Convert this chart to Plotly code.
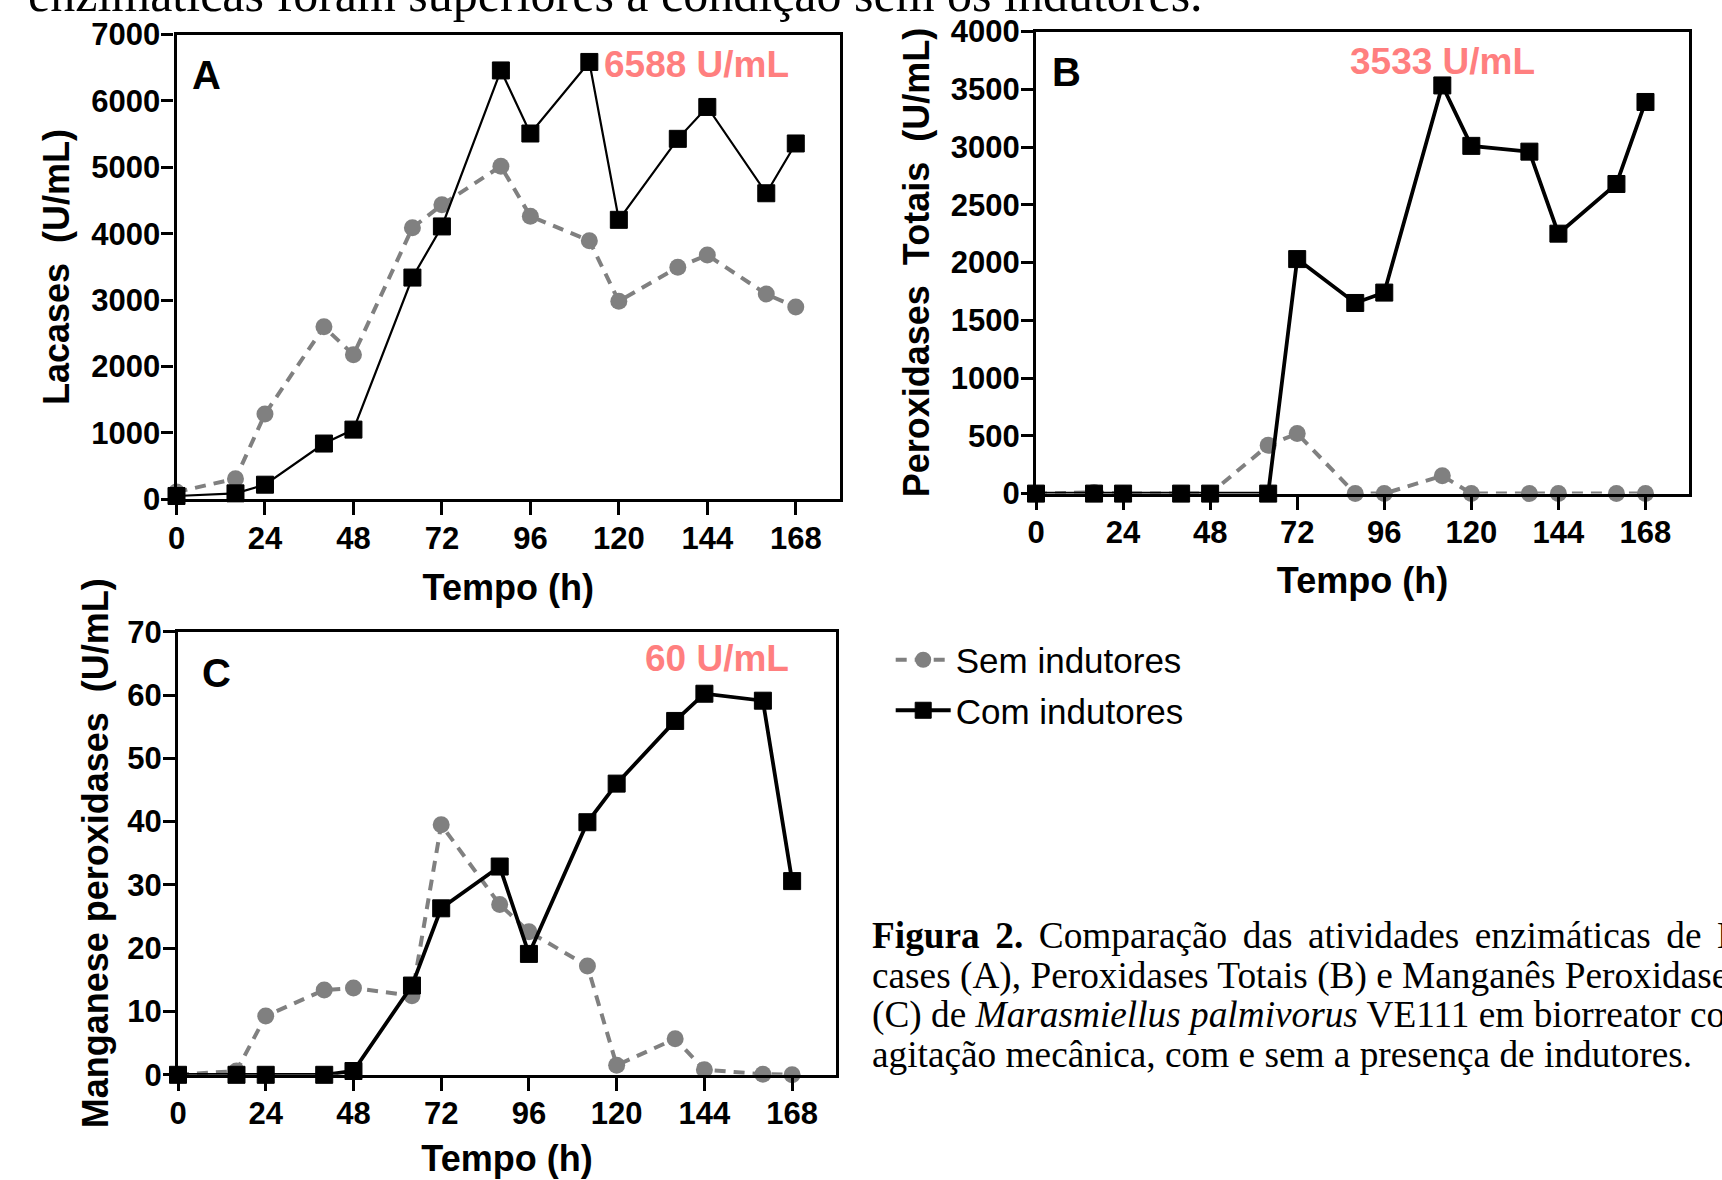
import plotly.graph_objects as go

W, H = 1722, 1180

# ---------------- data ----------------
hours = [0, 16, 24, 40, 48, 64, 72, 88, 96, 112, 120, 136, 144, 160, 168]

lacases_sem = [110, 310, 1285, 2598, 2176, 4090, 4436, 5017, 4265, 3895, 2985, 3497, 3680, 3091, 2895]
lacases_com = [50, 90, 220, 840, 1050, 3340, 4110, 6460, 5510, 6588, 4210, 5430, 5910, 4610, 5360]

perox_sem = [0, 10, 0, 0, 0, 418, 520, 0, 0, 155, 0, 0, 0, 0, 0]
perox_com = [0, 0, 0, 0, 0, 0, 2030, 1650, 1740, 3533, 3010, 2960, 2250, 2680, 3390]

mnp_sem = [0, 0.6, 9.3, 13.4, 13.7, 12.5, 39.5, 26.9, 22.6, 17.2, 1.5, 5.7, 0.8, 0.1, 0]
mnp_com = [0, 0, 0, 0, 0.6, 14.1, 26.3, 32.9, 19.1, 39.9, 46.0, 55.9, 60.2, 59.1, 30.6]

series_names = ["Sem indutores", "Com indutores"]
x_ticks = [0, 24, 48, 72, 96, 120, 144, 168]
y_max = [7000, 4000, 70]
y_step = [1000, 500, 10]
peak_labels = ["6588 U/mL", "3533 U/mL", "60 U/mL"]
panel_letters = ["A", "B", "C"]
y_titles = ["Lacases\u00a0 (U/mL)", "Peroxidases\u00a0 Totais\u00a0 (U/mL)", "Manganese peroxidases\u00a0 (U/mL)"]
x_title = "Tempo (h)"

top_text = "enzimáticas foram superiores à condição sem os indutores."
sp = " \u2006"
caption_lines = [
    "<b>Figura" + sp + "2.</b>" + sp + "Comparação" + sp + "das" + sp + "atividades" + sp
    + "enzimáticas" + sp + "de" + sp + "La-",
    "cases (A), Peroxidases Totais (B) e Manganês Peroxidases",
    "(C) de <i>Marasmiellus palmivorus</i> VE111 em biorreator com",
    "agitação mecânica, com e sem a presença de indutores.",
]

# ---------------- styling ----------------
SANS = "Liberation Sans, Arial, sans-serif"
SERIF = "Liberation Serif, Times New Roman, serif"
GRAY = "#808080"
RED = "#FF7F7F"

def px(x):
    return x / W

def py(y):
    return 1 - y / H

# panel boxes in pixels: left, right, top, bottom
panels = [
    (176.5, 840, 34.6, 499.3),
    (1036, 1689, 31.5, 493.6),
    (178, 836, 631.7, 1074.8),
]
black_widths = [2.2, 3.8, 3.8]
sem_data = [lacases_sem, perox_sem, mnp_sem]
com_data = [lacases_com, perox_com, mnp_com]

fig = go.Figure()

for i in range(3):
    xa = "x" if i == 0 else f"x{i+1}"
    ya = "y" if i == 0 else f"y{i+1}"
    show = (i == 2)
    fig.add_trace(go.Scatter(
        x=hours, y=sem_data[i], xaxis=xa, yaxis=ya, mode="lines+markers",
        name=series_names[0], showlegend=show, legendgroup="sem",
        line=dict(color=GRAY, width=4, dash="11px,8px"),
        marker=dict(symbol="circle", size=17, color=GRAY),
        cliponaxis=False,
    ))
    fig.add_trace(go.Scatter(
        x=hours, y=com_data[i], xaxis=xa, yaxis=ya, mode="lines+markers",
        name=series_names[1], showlegend=show, legendgroup="com",
        line=dict(color="black", width=black_widths[i]),
        marker=dict(symbol="square", size=17, color="black", line=dict(color="black", width=1)),
        cliponaxis=False,
    ))

layout = dict(
    width=W, height=H,
    margin=dict(l=0, r=0, t=0, b=0, autoexpand=False),
    paper_bgcolor="white", plot_bgcolor="white",
    showlegend=True,
    legend=dict(
        x=px(890.7), y=py(630.5), xanchor="left", yanchor="top",
        font=dict(family=SANS, size=35, color="black"),
        bgcolor="rgba(0,0,0,0)", borderwidth=0,
        tracegroupgap=2, itemwidth=55,
    ),
    annotations=[],
)

axis_common = dict(
    showline=True, linewidth=3.2, linecolor="black", mirror=True,
    showgrid=False, zeroline=False, automargin=False,
    ticks="outside", tickwidth=3.2, tickcolor="black",
)

ytitle_standoff = [11.5, 11, 8]
xtitle_standoff = [21, 19, 16]
for i, (l, r, t, b) in enumerate(panels):
    xk = "xaxis" if i == 0 else f"xaxis{i+1}"
    yk = "yaxis" if i == 0 else f"yaxis{i+1}"
    xa = "x" if i == 0 else f"x{i+1}"
    ya = "y" if i == 0 else f"y{i+1}"
    layout[xk] = dict(
        axis_common, domain=[px(l), px(r)], anchor=ya, range=[0, 180],
        tickmode="array", tickvals=x_ticks, ticklen=13, ticklabelstandoff=-4,
        tickfont=dict(family=SANS, size=31, color="black", weight="bold"),
        title=dict(text=x_title, standoff=xtitle_standoff[i],
                   font=dict(family=SANS, size=36, color="black", weight="bold")),
    )
    layout[yk] = dict(
        axis_common, domain=[py(b), py(t)], anchor=xa, range=[0, y_max[i]],
        tick0=0, dtick=y_step[i], ticklen=12, ticklabelstandoff=-5,
        tickfont=dict(family=SANS, size=31, color="black", weight="bold"),
        title=dict(text=y_titles[i], standoff=ytitle_standoff[i],
                   font=dict(family=SANS, size=36, color="black", weight="bold")),
    )

fig.update_layout(**layout)

# panel letters
letter_pos = [(190, 75.5), (1050, 72.5), (199.5, 672.5)]
for s, (x, y) in zip(panel_letters, letter_pos):
    fig.add_annotation(x=px(x), y=py(y), xref="paper", yref="paper", text=s, showarrow=False,
                       xanchor="left", yanchor="middle",
                       font=dict(family=SANS, size=40, color="black", weight="bold"))

# peak labels
peak_pos = [(790.5, 64.8), (1537, 61.5), (790.5, 658)]
for s, (x, y) in zip(peak_labels, peak_pos):
    fig.add_annotation(x=px(x), y=py(y), xref="paper", yref="paper", text=s, showarrow=False,
                       xanchor="right", yanchor="middle",
                       font=dict(family=SANS, size=37, color=RED, weight="bold"))

# clipped body text at top
fig.add_annotation(x=px(26), y=py(11 - 17), xref="paper", yref="paper", text=top_text,
                   showarrow=False, xanchor="left", yanchor="middle",
                   font=dict(family=SERIF, size=50, color="black"))

# caption
baselines = [948, 988, 1027.5, 1067]
for s, bl in zip(caption_lines, baselines):
    fig.add_annotation(x=px(870), y=py(bl - 12.5), xref="paper", yref="paper", text=s,
                       showarrow=False, xanchor="left", yanchor="middle", align="left",
                       font=dict(family=SERIF, size=37.3, color="black"))

fig.write_html("out.html", config={"displayModeBar": False},
               post_script="document.body.style.margin='0';document.body.style.overflow='hidden';")
